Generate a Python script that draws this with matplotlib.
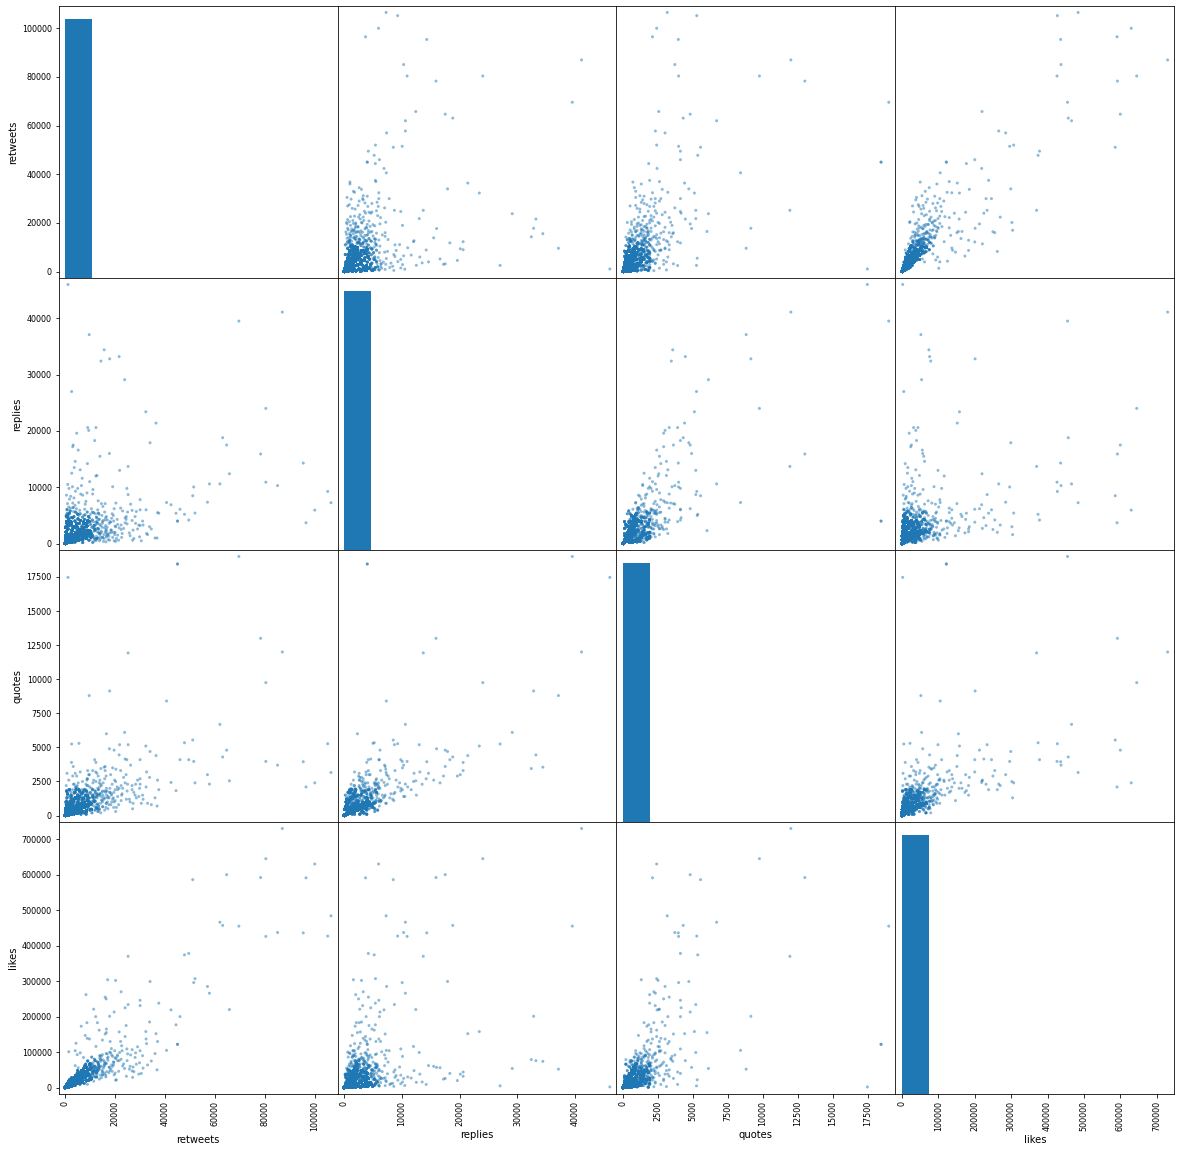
import pandas as pd
import matplotlib
matplotlib.use("Agg")
import matplotlib.pyplot as plt
from pandas.plotting import scatter_matrix

# most engaged tweets
top_retweets = [87000, 80400, 100000, 64700, 78300, 96500, 51100, 106500, 62000, 63100,
                69600, 85100, 95400, 80400, 105200, 25200, 47800, 49500, 52000, 51500,
                57000, 57800, 65800, 34000, 1100, 45000, 45000, 9600, 15600, 14300,
                21600, 17800, 23800, 2560, 32300, 36400, 40600, 16500]
top_replies = [41100, 24000, 5950, 17500, 15900, 3700, 8500, 7260, 10600, 18800,
               39500, 10300, 14300, 10900, 9260, 13700, 5200, 4180, 5420, 10050,
               7350, 10600, 12400, 17900, 46000, 4000, 4000, 37100, 34400, 32400,
               33200, 32800, 29100, 27000, 23400, 21400, 7300, 2300]
top_quotes = [12000, 9750, 2400, 4800, 13000, 2100, 5540, 3160, 6690, 4300,
              19000, 3700, 3950, 3970, 5270, 11930, 5340, 4100, 2400, 3970,
              3000, 2310, 2550, 4700, 17470, 18450, 18450, 8800, 3550, 3450,
              4450, 9140, 6100, 5250, 5100, 4400, 8400, 6000]
top_likes = [730000, 645000, 630000, 600000, 592000, 591000, 586000, 484000, 466000, 457000,
             455000, 437000, 436000, 426000, 427000, 370000, 374000, 378000, 307000, 296000,
             285000, 266000, 220000, 299000, 2000, 122000, 122000, 52000, 74000, 79000,
             76000, 201000, 54000, 5000, 158000, 152000, 105000, 155000]

# middle range
mid_retweets = [17000, 20200, 22400, 8300, 16000, 16400, 30000, 37500, 25200, 30000,
                24000, 42400, 11400, 19600, 46000, 12200, 44400, 33800, 6400, 8700,
                24400, 36000, 36800, 31200, 33000, 37000, 32400, 30000, 27000, 20200,
                13600, 14900, 16000, 12900, 16500, 18000, 21600, 22200, 22800, 24000,
                24700, 26800, 22400, 25000, 21000, 16500, 1400, 8800, 8000, 9700,
                4300, 6000, 7300, 4800, 4000, 10000, 12500, 11500, 20500, 18600,
                19300, 20000, 26000, 28000, 29000, 27500, 34500, 31000, 28500, 30500]
mid_replies = [1600, 3000, 3300, 2000, 4200, 2500, 6000, 5400, 8700, 3200,
               4600, 6900, 2700, 6200, 6100, 3800, 5400, 3000, 1900, 2600,
               4300, 1000, 1000, 3300, 1600, 5500, 6000, 7800, 600, 400,
               5200, 3600, 7100, 2100, 4800, 3900, 2800, 6300, 1800, 3700,
               9800, 4100, 2500, 5600, 3400, 1200, 6500, 3300, 1400, 4500,
               2800, 900, 3000, 5400, 1500, 700, 1300, 2200, 900, 2000,
               5000, 2000, 1400, 4800, 2600, 900, 2600, 4000, 5700, 500]
mid_quotes = [1300, 2500, 2200, 1900, 3300, 2900, 4100, 1900, 5200, 2300,
              4150, 2430, 2600, 4800, 4100, 3200, 1830, 2800, 1700, 2200,
              3000, 1300, 700, 1200, 900, 2600, 2100, 2700, 500, 300,
              2400, 1800, 3600, 1500, 2000, 1700, 2000, 3300, 1600, 2400,
              4100, 1900, 1100, 2300, 1400, 900, 2600, 2700, 1100, 3000,
              2000, 1200, 1800, 2200, 900, 500, 800, 1400, 600, 1000,
              1300, 1900, 1000, 1500, 2600, 1700, 800, 1500, 1300, 900]
mid_likes = [304000, 302000, 270000, 262000, 255000, 250000, 246000, 238000, 234000, 231000,
             225000, 219000, 221000, 213000, 200000, 200000, 177000, 185000, 173000, 183000,
             175000, 96000, 50000, 55000, 64000, 130000, 137000, 104000, 29000, 21000,
             162000, 134000, 151000, 183000, 165000, 130000, 157000, 130000, 104000, 144000,
             109000, 107000, 80000, 95000, 76000, 68000, 101000, 139000, 147000, 137000,
             125000, 98000, 85000, 93000, 104000, 38000, 45000, 33000, 22000, 64000,
             72000, 41000, 60000, 85000, 115000, 45000, 75000, 90000, 66000, 40000]

# many replies, few retweets
talk_retweets = [9000, 9400, 12300, 11800, 13900, 17700, 8900, 3000, 3200, 5200,
                 4000, 4600, 2600, 3600, 6000, 6800, 12300, 12700, 9800, 1000,
                 1500, 5000, 11000, 7000, 2200, 14500, 19000, 21800, 3000, 8000,
                 600, 4500, 10800, 13000, 16200, 18800, 24500, 26800, 29500, 21000,
                 700, 400, 2500, 5500]
talk_replies = [20600, 20100, 20600, 18300, 15500, 16000, 14200, 17200, 17500, 16600,
                14600, 19600, 12500, 13500, 13100, 11600, 12000, 12100, 11000, 10500,
                9800, 9800, 8800, 8600, 8400, 7100, 10100, 13000, 7200, 7000,
                6100, 6200, 5600, 6000, 4600, 5300, 4800, 5900, 3300, 1500,
                2600, 1800, 3900, 5000]
talk_quotes = [3300, 3000, 3900, 4100, 2600, 4900, 2700, 2900, 3600, 2400,
               3100, 2900, 1500, 2300, 3200, 1900, 2500, 3100, 2100, 1400,
               1800, 2000, 3300, 1600, 1200, 2200, 3500, 5200, 900, 1400,
               700, 1100, 1500, 2000, 1700, 2300, 1200, 2200, 1400, 1900,
               3100, 2200, 3900, 5300]
talk_likes = [32000, 38000, 44000, 40000, 60000, 57000, 9000, 24000, 26000, 56000,
              62000, 20000, 15000, 16000, 38000, 27000, 116000, 48000, 30000, 6000,
              11000, 35000, 50000, 44000, 12000, 28000, 88000, 99000, 20000, 62000,
              4000, 30000, 40000, 52000, 35000, 46000, 32000, 47000, 38000, 92000,
              3000, 2500, 9000, 22000]

# edge of the dense cloud
halo_retweets = [2100, 3900, 5800, 7400, 9800, 11200, 13800, 16800, 18500, 15200,
                 12100, 10500, 8300, 6200, 4100, 2900, 1700, 500, 900, 3300,
                 1200, 2400, 4400, 6900, 9100, 11800, 14200, 17200, 19800, 22600,
                 18200, 15800, 13200, 11100, 20800, 23400, 25700, 19600, 16300, 13700,
                 11400, 14800, 12800, 10100, 7800, 5400, 3500, 24800, 27200, 17900,
                 21400, 15100, 8700, 6500, 20300, 23000, 26200, 29800, 32600, 28200]
halo_replies = [6300, 6800, 5900, 5000, 4600, 3900, 3400, 2900, 2400, 4100,
                5300, 6200, 7500, 8800, 9300, 10100, 7900, 8600, 7100, 5700,
                3000, 1500, 2600, 3300, 1700, 800, 1200, 700, 1600, 1100,
                3800, 5600, 7600, 9600, 4300, 2700, 1900, 500, 300, 500,
                400, 2900, 4500, 5200, 6100, 7300, 8100, 3500, 2400, 1900,
                600, 6600, 9000, 10300, 7200, 5800, 7000, 1200, 1800, 3600]
halo_quotes = [1000, 1300, 1600, 1800, 1600, 1900, 2100, 1800, 1500, 2400,
               1700, 2000, 2300, 1700, 2100, 1900, 1300, 1100, 1500, 2300,
               1900, 1700, 2100, 2500, 2200, 1600, 2300, 1400, 2600, 1500,
               3000, 2700, 2900, 2400, 2100, 2800, 1200, 1000, 600, 400,
               700, 1100, 1300, 900, 1200, 900, 1600, 1800, 900, 2000,
               800, 1500, 2600, 1400, 3400, 2000, 3700, 2000, 3200, 2300]
halo_likes = [14000, 26000, 33000, 47000, 62000, 70000, 83000, 95000, 110000, 78000,
              56000, 48000, 39000, 29000, 21000, 16000, 9000, 3500, 5500, 12500,
              8000, 15000, 28000, 41000, 53000, 61000, 74000, 86000, 104000, 118000,
              98000, 63000, 72000, 58000, 88000, 67000, 52000, 36000, 30000, 24000,
              18000, 43000, 38000, 31000, 23000, 17000, 11000, 76000, 58000, 48000,
              46000, 45000, 34000, 26000, 82000, 61000, 92000, 70000, 124000, 98000]

# the loose cloud round the core, with tweet counts
cloud_retweets = [1200, 2700, 4500, 6300, 8100, 9900, 11600, 13400, 15300, 17100,
                  600, 2000, 3700, 5100, 7000, 8800, 10700, 12500, 14100, 16200,
                  19000, 900, 1900, 3200, 4000, 5700, 7600, 9300, 11000, 12900,
                  14700, 18300, 400, 2400, 3500, 6000, 7300, 8500, 10300, 12000,
                  13900, 15800, 17800, 20000, 1500, 2900, 4300, 5400, 6900, 8200,
                  9600, 11300, 13100, 14900, 16600, 300, 1000, 2200, 3000, 4800,
                  6600, 7900, 9000, 10900, 12300, 14400, 16900, 19500, 1700, 3400,
                  5000, 6300, 7700, 9500, 11700, 13600, 15600, 17600, 800, 2600,
                  4100, 5900, 7100, 8900, 10600, 12700, 14200, 18600, 500, 1300,
                  2300, 3900, 5500, 6800, 8400, 10100, 11900, 13300, 16400, 19400]
cloud_replies = [2600, 400, 3100, 700, 2400, 3900, 1000, 2600, 400, 1700,
                 4700, 5800, 1100, 4400, 200, 5600, 2900, 4700, 800, 3200,
                 1100, 1600, 3400, 6400, 300, 3600, 1500, 4800, 200, 3600,
                 5000, 2400, 3100, 2000, 4800, 5300, 3900, 900, 2000, 3300,
                 1700, 2800, 600, 3100, 4100, 1200, 2000, 600, 4700, 3400,
                 1300, 5500, 1000, 3900, 1400, 900, 600, 4600, 2700, 1700,
                 3000, 5100, 2000, 4200, 600, 2200, 4200, 2000, 1300, 300,
                 2900, 1400, 4300, 600, 2700, 4300, 900, 3600, 5300, 3200,
                 5600, 2100, 700, 3700, 1400, 3900, 3200, 4500, 1900, 3900,
                 900, 4000, 1000, 2300, 1800, 3400, 2300, 5400, 1900, 4000]
cloud_quotes = [700, 1200, 300, 900, 1500, 400, 1100, 700, 1300, 500,
                1300, 400, 1700, 1000, 600, 1700, 200, 1400, 900, 1800,
                1200, 1600, 200, 1100, 500, 1800, 200, 800, 1500, 500,
                1700, 800, 400, 1400, 700, 300, 1300, 1800, 1000, 1800,
                1600, 400, 1700, 1100, 900, 300, 1900, 1200, 600, 200,
                1300, 1100, 300, 1000, 1500, 1000, 400, 1500, 100, 800,
                1600, 1000, 600, 1900, 600, 1400, 1000, 1700, 1900, 1000,
                1500, 100, 1900, 1000, 1300, 500, 1800, 1300, 500, 900,
                1700, 400, 1700, 1300, 800, 1600, 200, 1600, 1800, 100,
                600, 1300, 1900, 1100, 100, 1700, 400, 1900, 900, 600]
cloud_likes = [14000, 6000, 31000, 18000, 27000, 35000, 46000, 64000, 55000, 77000,
               9000, 16000, 23000, 15000, 36000, 58000, 29000, 41000, 35000, 68000,
               60000, 12000, 4000, 26000, 29000, 42000, 12000, 50000, 38000, 72000,
               49000, 53000, 5000, 20000, 9000, 24000, 54000, 44000, 68000, 30000,
               90000, 40000, 100000, 84000, 3000, 17000, 11000, 37000, 30000, 66000,
               24000, 56000, 48000, 93000, 45000, 2500, 10000, 13000, 19000, 40000,
               21000, 38000, 75000, 63000, 52000, 60000, 83000, 72000, 22000, 14000,
               48000, 28000, 61000, 20000, 80000, 57000, 66000, 58000, 7000, 28000,
               19000, 10000, 50000, 46000, 86000, 44000, 79000, 92000, 1500, 18000,
               25000, 6000, 26000, 46000, 33000, 52000, 60000, 67000, 96000, 65000]
cloud_tweets = [6, 6, 6, 4, 4, 4, 2, 2, 1, 1,
                3, 3, 6, 6, 4, 2, 2, 2, 1, 1,
                1, 6, 6, 2, 6, 6, 4, 4, 2, 2,
                1, 1, 6, 6, 3, 2, 4, 4, 2, 2,
                2, 1, 1, 1, 6, 6, 6, 6, 2, 4,
                4, 2, 2, 1, 1, 6, 6, 3, 6, 6,
                4, 2, 4, 2, 2, 1, 1, 1, 6, 6,
                6, 4, 4, 4, 2, 2, 1, 1, 3, 6,
                3, 6, 4, 4, 2, 2, 1, 1, 6, 6,
                6, 6, 6, 4, 4, 2, 2, 2, 1, 1]

# the bulk of ordinary tweets, with how many tweets sit at each value
bulk_retweets = [40, 120, 260, 410, 550, 680, 820, 960, 1100, 1250,
                 1400, 1600, 1800, 2000, 2250, 2500, 2800, 3100, 3400, 3800,
                 4200, 4600, 5000, 5500, 6000, 6600, 7200, 7900, 8600, 9400,
                 10200, 300, 500, 150, 700, 400, 900, 250, 1100, 600,
                 1300, 450, 1700, 800, 350, 800, 1500, 2300, 3200, 4300,
                 5600, 7000, 8800, 11000, 13500, 15500, 600, 1200, 2000, 3000,
                 4100, 5300, 6700, 8200, 9900, 12000, 14500, 1500, 2600, 3800,
                 5200, 6800, 8500, 10400, 12600, 15000, 17500, 1900, 2700, 3600,
                 4700, 6100, 7600, 2300, 3000, 5000, 1000, 9000, 11500, 13000,
                 16000]
bulk_replies = [12, 40, 110, 70, 230, 160, 390, 280, 520, 340,
                700, 450, 880, 600, 1100, 760, 1350, 950, 1600, 1150,
                1900, 1400, 2200, 1650, 2500, 1900, 2800, 2100, 3100, 2300,
                1800, 650, 1000, 1400, 1700, 2100, 2500, 2900, 3300, 3800,
                4300, 4900, 5400, 6000, 200, 300, 500, 700, 900, 1200,
                1500, 1300, 1600, 1400, 1900, 1600, 250, 400, 600, 850,
                1100, 1300, 1600, 1900, 2200, 2500, 2000, 200, 300, 450,
                600, 800, 1000, 1200, 900, 1100, 1300, 1600, 2300, 2900,
                3500, 4100, 3600, 3800, 4600, 5200, 5000, 4000, 3200, 2700,
                2100]
bulk_quotes = [2, 8, 25, 30, 60, 45, 95, 70, 130, 110,
               170, 140, 210, 180, 260, 230, 320, 290, 380, 350,
               450, 420, 520, 500, 600, 580, 700, 650, 800, 750,
               880, 120, 200, 260, 330, 380, 450, 520, 600, 680,
               780, 850, 950, 1050, 450, 650, 850, 1000, 1150, 1300,
               1400, 1250, 1450, 1350, 1500, 1200, 90, 160, 240, 330,
               420, 520, 640, 760, 900, 1050, 1150, 60, 100, 150,
               210, 280, 360, 450, 550, 650, 800, 300, 420, 550,
               700, 850, 950, 500, 750, 900, 600, 1100, 1000, 850,
               1300]
bulk_likes = [150, 600, 1500, 2300, 2900, 3800, 4300, 5400, 6100, 7200,
              7800, 9100, 9700, 11200, 12100, 13600, 14800, 16500, 18000, 20500,
              22000, 25000, 27500, 30000, 33000, 36000, 39000, 43000, 46000, 51000,
              55000, 1200, 2000, 900, 3200, 2600, 4800, 1800, 6500, 3500,
              8500, 4000, 11000, 6000, 1400, 3000, 6000, 9000, 13000, 17000,
              22000, 28000, 35000, 44000, 52000, 60000, 7000, 12000, 18000, 25000,
              32000, 40000, 48000, 57000, 66000, 76000, 88000, 3000, 5500, 8500,
              12000, 16000, 20000, 25000, 30000, 36000, 42000, 8000, 11000, 15000,
              20000, 26000, 31000, 10000, 14000, 24000, 5000, 40000, 48000, 58000,
              70000]
bulk_tweets = [6000, 10400, 9600, 8000, 7600, 6800, 6000, 5600, 4800, 4400,
               4000, 3600, 3200, 3000, 2600, 2400, 2080, 1800, 1600, 1360,
               1200, 1000, 840, 720, 600, 480, 400, 320, 240, 180,
               56, 2800, 2000, 1200, 1120, 800, 600, 400, 360, 240,
               160, 8, 4, 2, 1200, 800, 600, 400, 280, 200,
               120, 100, 60, 4, 2, 1, 1600, 1200, 880, 640,
               440, 320, 200, 120, 60, 3, 1, 1600, 1200, 800,
               560, 360, 240, 48, 3, 2, 1, 1000, 720, 480,
               320, 180, 120, 240, 8, 4, 6, 48, 3, 2,
               1]


def frame(rt, rep, q, lk):
    return pd.DataFrame({'retweets': rt, 'replies': rep, 'quotes': q, 'likes': lk})


bulk = frame(bulk_retweets, bulk_replies, bulk_quotes, bulk_likes)
bulk = bulk.loc[bulk.index.repeat(bulk_tweets)]
cloud = frame(cloud_retweets, cloud_replies, cloud_quotes, cloud_likes)
cloud = cloud.loc[cloud.index.repeat(cloud_tweets)]

df = pd.concat([bulk, cloud,
                frame(top_retweets, top_replies, top_quotes, top_likes),
                frame(mid_retweets, mid_replies, mid_quotes, mid_likes),
                frame(talk_retweets, talk_replies, talk_quotes, talk_likes),
                frame(halo_retweets, halo_replies, halo_quotes, halo_likes)],
               ignore_index=True)

scatter_matrix(df, figsize=(1181 / 72, 1152 / 72))
fig = plt.gcf()
fig.subplots_adjust(left=0.0497, right=0.9943, bottom=0.0503, top=0.9948,
                    wspace=0, hspace=0)
fig.savefig('out.png', dpi=72)
